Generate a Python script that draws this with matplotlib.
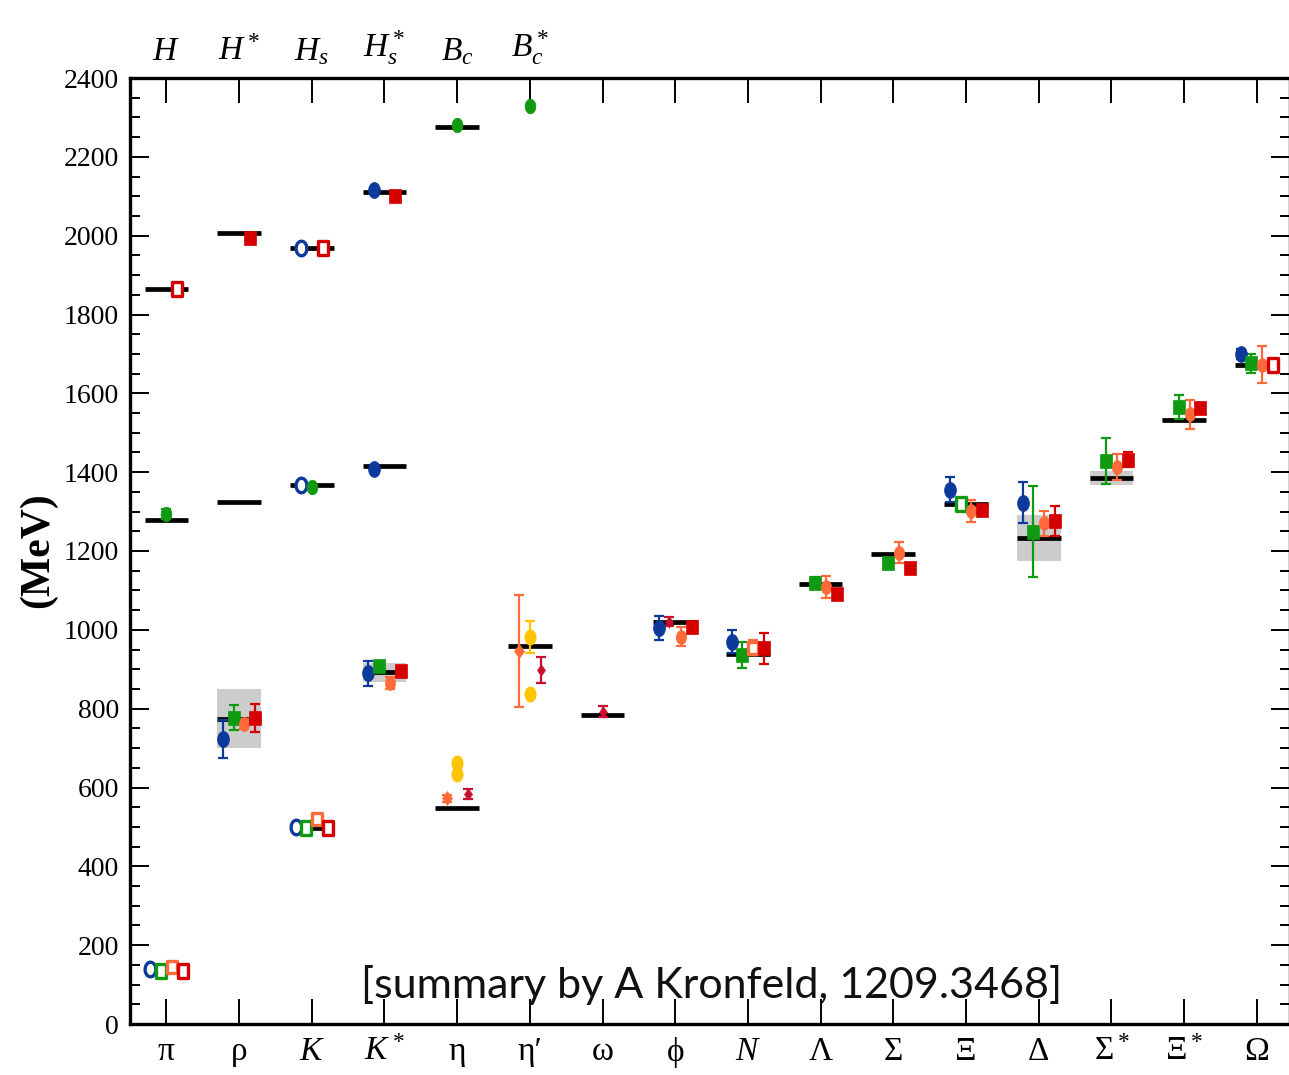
import numpy as np
import matplotlib
matplotlib.use("Agg")
import matplotlib.pyplot as plt
from matplotlib.path import Path
from matplotlib.ticker import MultipleLocator

plt.rcParams['font.family'] = ['Liberation Serif', 'DejaVu Serif']
plt.rcParams['mathtext.fontset'] = 'custom'
plt.rcParams['mathtext.rm'] = 'Liberation Serif'
plt.rcParams['mathtext.it'] = 'Liberation Serif:italic'
plt.rcParams['mathtext.bf'] = 'Liberation Serif:bold'

# ---------------- data ----------------
CATEGORIES = ['π', 'ρ', '$K$', '$K^*$', 'η', 'η′', 'ω', 'ϕ', '$N$', 'Λ', 'Σ', 'Ξ',
              'Δ', r'$\Sigma^*$', r'$\Xi^*$', 'Ω']
TOP_LABELS = ['$H$', '$H^*$', '$H_s$', '$H_s^*$', '$B_c$', '$B_c^*$']

# experimental light hadron masses (MeV) and widths
EXP_MASS = [138, 775, 496, 892, 548, 958, 783, 1020, 939, 1116, 1193, 1318,
            1232, 1385, 1533, 1672]
EXP_WIDTH = [0, 149, 0, 50, 0, 0, 0, 0, 0, 0, 0, 0, 117, 36, 9.5, 0]

# heavy mesons (B masses shown minus 4000 MeV)
HEAVY_EXP_CAT = [0, 1, 2, 3, 4, 0, 1, 2, 3]
HEAVY_EXP_MASS = [1865, 2007, 1968, 2112, 2276, 1279, 1325, 1367, 1415]

# lattice results
BLUE_CAT = [0, 1, 2, 3, 7, 8, 11, 12, 15]
BLUE_MASS = [139, 722, 499, 890, 1004, 970, 1356, 1323, 1700]
BLUE_ERR = [0, 48, 0, 32, 30, 30, 31, 53, 12]
BLUE_OPEN = [1, 0, 1, 0, 0, 0, 0, 0, 0]

GREEN_CAT = [0, 1, 2, 3, 8, 9, 10, 11, 12, 13, 14, 15]
GREEN_MASS = [135, 777, 497, 908, 936, 1119, 1169, 1319, 1249, 1428, 1566, 1676]
GREEN_ERR = [0, 32, 0, 10, 33, 15, 14, 0, 115, 58, 31, 24]
GREEN_OPEN = [1, 0, 1, 0, 0, 0, 0, 1, 0, 0, 0, 0]

ORANGE_CAT = [0, 1, 2, 3, 7, 8, 9, 10, 11, 12, 13, 14, 15]
ORANGE_MASS = [145, 761, 520, 865, 982, 955, 1109, 1196, 1301, 1270, 1414, 1547, 1672]
ORANGE_ERR = [0, 12, 0, 16, 24, 20, 27, 27, 28, 32, 33, 37, 47]
ORANGE_OPEN = [1, 0, 1, 0, 0, 1, 0, 0, 0, 0, 0, 0, 0]

RED_CAT = [0, 1, 2, 3, 7, 8, 9, 10, 11, 12, 13, 14, 15]
RED_MASS = [135, 777, 497, 896, 1008, 953, 1090, 1156, 1304, 1276, 1431, 1562, 1673]
RED_ERR = [0, 35, 0, 8, 8, 40, 10, 10, 8, 39, 19, 8, 0]
RED_OPEN = [1, 0, 1, 0, 0, 0, 0, 0, 0, 0, 0, 0, 1]

ORANGE_PS_CAT = [4, 5]
ORANGE_PS_MASS = [573, 946]
ORANGE_PS_ERR = [9, 143]

YELLOW_CAT = [4, 4, 5, 5]
YELLOW_MASS = [662, 634, 982, 837]
YELLOW_ERR = [0, 0, 40, 0]

CRIMSON_PS_CAT = [4, 5]
CRIMSON_PS_MASS = [583, 898]
CRIMSON_PS_ERR = [12, 33]

CRIMSON_V_CAT = [6, 7]
CRIMSON_V_MASS = [792, 1021]
CRIMSON_V_ERR = [14, 12]

HBLUE_CAT = [2, 3, 2, 3]
HBLUE_MASS = [1969, 2116, 1367, 1408]
HBLUE_OPEN = [1, 0, 1, 0]

HRED_CAT = [0, 1, 2, 3]
HRED_MASS = [1865, 1994, 1969, 2101]
HRED_OPEN = [1, 0, 1, 0]

HGREEN_CAT = [0, 2, 4, 5]
HGREEN_MASS = [1294, 1363, 2281, 2330]
HGREEN_ERR = [12, 0, 0, 0]

# ---------------- styles ----------------
t = np.linspace(0, 2 * np.pi, 41)
ELL = Path(np.c_[0.74 * np.cos(t), np.sin(t)])
SQ = Path([(-0.8, -1), (0.8, -1), (0.8, 1), (-0.8, 1), (-0.8, -1)], closed=True)
DIA = Path([(0, -1), (0.72, 0), (0, 1), (-0.72, 0), (0, -1)], closed=True)

C_BLUE = '#0b3a9c'
C_GREEN = '#0f9a12'
C_ORANGE = '#ff6a3a'
C_RED = '#d40000'
C_YELLOW = '#ffc400'
C_CRIMSON = '#c8102e'

HALF = 0.3

fig = plt.figure(figsize=(12.89, 10.75), dpi=100)
ax = fig.add_axes([130 / 1289, 51 / 1075, 1159.5 / 1289, 946 / 1075])
ax.set_xlim(-0.5, 15.45)
ax.set_ylim(0, 2400)

# experimental bands and lines
for i, (m, w) in enumerate(zip(EXP_MASS, EXP_WIDTH)):
    if w > 0:
        ax.fill_between([i - HALF, i + HALF], m - w / 2, m + w / 2,
                        color='#cccccc', lw=0, zorder=1)
    ax.plot([i - HALF, i + HALF], [m, m], color='black', lw=3.4,
            solid_capstyle='butt', zorder=2)
for c, m in zip(HEAVY_EXP_CAT, HEAVY_EXP_MASS):
    ax.plot([c - HALF, c + HALF], [m, m], color='black', lw=3.4,
            solid_capstyle='butt', zorder=2)


def draw(cats, masses, errs, opens, color, dx, mk_filled, mk_open, ms):
    n = len(cats)
    if errs is None:
        errs = [0] * n
    if opens is None:
        opens = [0] * n
    if np.isscalar(dx):
        dx = [dx] * n
    for c, m, e, o, d in zip(cats, masses, errs, opens, dx):
        x = c + d
        if e > 0:
            ax.errorbar(x, m, yerr=e, fmt='none', ecolor=color, elinewidth=1.6,
                        capsize=3.5, capthick=1.6, zorder=3)
        if o:
            ax.plot(x, m, marker=mk_open, ms=ms - 1, mfc='white', mec=color,
                    mew=2.4, ls='none', zorder=4)
        else:
            ax.plot(x, m, marker=mk_filled, ms=ms, mfc=color, mec=color,
                    mew=0.5, ls='none', zorder=4)


draw(BLUE_CAT, BLUE_MASS, BLUE_ERR, BLUE_OPEN, C_BLUE, -0.22, ELL, ELL, 11.5)
draw(GREEN_CAT, GREEN_MASS, GREEN_ERR, GREEN_OPEN, C_GREEN, -0.075, SQ, SQ, 10.5)
draw(ORANGE_CAT, ORANGE_MASS, ORANGE_ERR, ORANGE_OPEN, C_ORANGE, 0.075, ELL, SQ, 10)
draw(RED_CAT, RED_MASS, RED_ERR, RED_OPEN, C_RED, 0.225, SQ, SQ, 10.5)
draw(ORANGE_PS_CAT, ORANGE_PS_MASS, ORANGE_PS_ERR, None, C_ORANGE, -0.145, DIA, DIA, 10)
draw(YELLOW_CAT, YELLOW_MASS, YELLOW_ERR, None, C_YELLOW, 0.0, ELL, ELL, 11)
draw(CRIMSON_PS_CAT, CRIMSON_PS_MASS, CRIMSON_PS_ERR, None, C_CRIMSON, 0.15, DIA, DIA, 8)
draw(CRIMSON_V_CAT, CRIMSON_V_MASS, CRIMSON_V_ERR, None, C_CRIMSON, [0.0, -0.08], DIA, DIA, 8)
draw(HBLUE_CAT, HBLUE_MASS, None, HBLUE_OPEN, C_BLUE, -0.15, ELL, ELL, 11.5)
draw(HRED_CAT, HRED_MASS, None, HRED_OPEN, C_RED, 0.15, SQ, SQ, 10.5)
draw(HGREEN_CAT, HGREEN_MASS, HGREEN_ERR, None, C_GREEN, 0.0, ELL, ELL, 10.5)

# axes styling
for s in ax.spines.values():
    s.set_linewidth(2.4)
ax.set_xticks(range(len(CATEGORIES)))
ax.set_xticklabels(CATEGORIES, fontsize=24)
ax.tick_params(axis='x', which='major', direction='in', length=18, width=1.4,
               top=True, bottom=True, pad=9)
ax.yaxis.set_major_locator(MultipleLocator(200))
ax.yaxis.set_minor_locator(MultipleLocator(50))
ax.tick_params(axis='y', which='major', direction='in', length=14, width=1.4,
               left=True, right=True, labelsize=20, pad=8)
ax.tick_params(axis='y', which='minor', direction='in', length=7, width=1.4,
               left=True, right=True)

sec = ax.secondary_xaxis('top')
sec.set_xticks(range(len(TOP_LABELS)))
sec.set_xticklabels(TOP_LABELS, fontsize=24)
sec.tick_params(length=0, pad=8)
sec.spines['top'].set_visible(False)

fig.text(38 / 1289, 0.488, '(MeV)', rotation=90, fontsize=30, fontweight='bold',
         ha='center', va='center')

ax.text(7.5, 66, '[summary by A Kronfeld, 1209.3468]', fontsize=31,
        family=['Lato', 'DejaVu Sans'], fontweight='normal', color='#111111',
        ha='center', va='baseline', zorder=5)

fig.savefig('out.png', dpi=100)
